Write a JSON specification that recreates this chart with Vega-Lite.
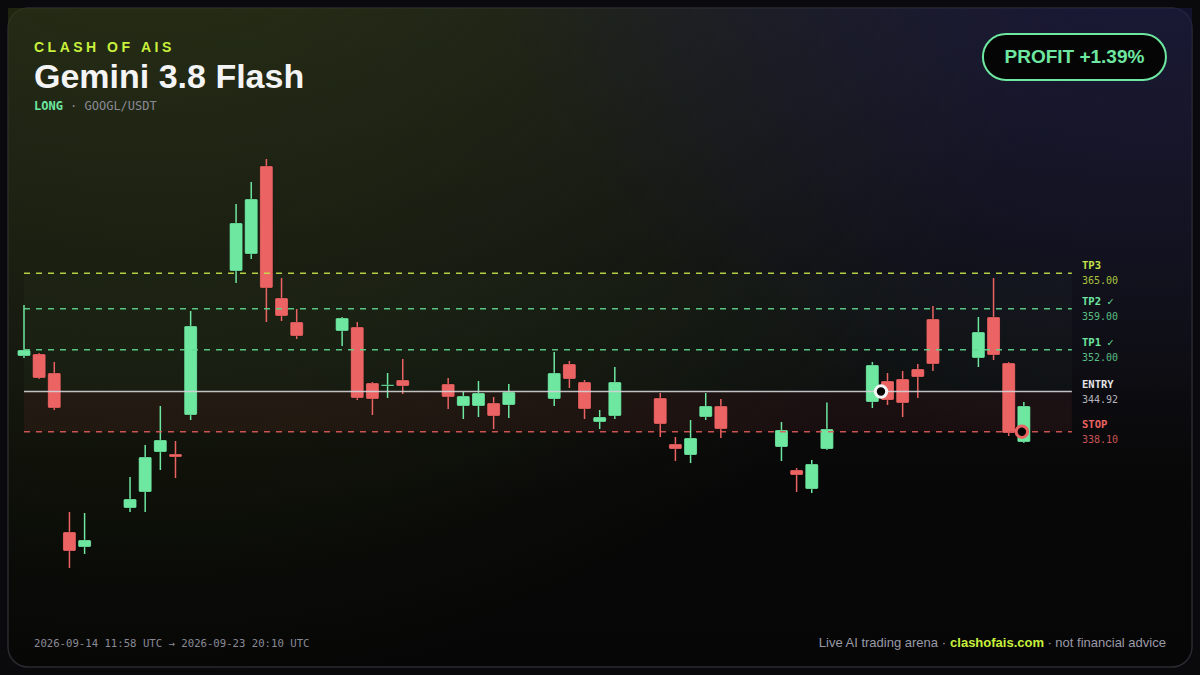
{
  "$schema": "https://vega.github.io/schema/vega-lite/v6.json",
  "width": 1184,
  "height": 659,
  "padding": 8,
  "autosize": {"type": "none"},
  "background": "#0a0a0c",
  "config": {
    "scale": {"continuousPadding": 0},
    "view": {
      "stroke": "#2a2a30",
      "strokeWidth": 1.5,
      "cornerRadius": 20,
      "fill": {"gradient": "linear", "x1": 0, "y1": 0, "x2": 0, "y2": 1, "stops": [{"offset": 0, "color": "#16171d"}, {"offset": 0.5, "color": "#0d0d0f"}, {"offset": 0.75, "color": "#070707"}, {"offset": 1, "color": "#060606"}]}
    }
  },
  "datasets": {
    "candles": [
      {"i": 0, "o": 350.96, "h": 359.62, "l": 350.62, "c": 351.98},
      {"i": 1, "o": 351.30, "h": 351.47, "l": 347.05, "c": 347.22},
      {"i": 2, "o": 348.07, "h": 349.94, "l": 341.79, "c": 342.13},
      {"i": 3, "o": 321.07, "h": 324.46, "l": 314.95, "c": 317.84},
      {"i": 4, "o": 318.52, "h": 324.29, "l": 317.33, "c": 319.71},
      {"i": 7, "o": 325.14, "h": 330.41, "l": 324.46, "c": 326.67},
      {"i": 8, "o": 327.86, "h": 335.84, "l": 324.46, "c": 333.80},
      {"i": 9, "o": 334.65, "h": 342.47, "l": 331.60, "c": 336.69},
      {"i": 10, "o": 334.31, "h": 336.52, "l": 330.24, "c": 333.80},
      {"i": 11, "o": 340.94, "h": 358.60, "l": 340.09, "c": 356.05},
      {"i": 14, "o": 365.39, "h": 376.77, "l": 363.36, "c": 373.55},
      {"i": 15, "o": 368.28, "h": 380.51, "l": 367.43, "c": 377.62},
      {"i": 16, "o": 383.23, "h": 384.42, "l": 356.73, "c": 362.51},
      {"i": 17, "o": 360.81, "h": 364.20, "l": 356.90, "c": 357.75},
      {"i": 18, "o": 356.73, "h": 358.94, "l": 353.84, "c": 354.35},
      {"i": 21, "o": 355.20, "h": 357.58, "l": 352.65, "c": 357.41},
      {"i": 22, "o": 355.88, "h": 356.73, "l": 343.48, "c": 343.82},
      {"i": 23, "o": 346.37, "h": 346.54, "l": 340.94, "c": 343.65},
      {"i": 24, "o": 345.86, "h": 348.07, "l": 343.82, "c": 346.08},
      {"i": 25, "o": 346.88, "h": 350.45, "l": 344.50, "c": 345.86},
      {"i": 28, "o": 346.20, "h": 347.22, "l": 341.96, "c": 344.00},
      {"i": 29, "o": 342.47, "h": 344.84, "l": 340.26, "c": 344.16},
      {"i": 30, "o": 342.47, "h": 346.71, "l": 340.60, "c": 344.67},
      {"i": 31, "o": 342.98, "h": 344.00, "l": 338.56, "c": 340.77},
      {"i": 32, "o": 342.64, "h": 346.20, "l": 340.43, "c": 344.84},
      {"i": 35, "o": 343.65, "h": 351.64, "l": 342.47, "c": 348.07},
      {"i": 36, "o": 349.60, "h": 350.11, "l": 345.52, "c": 347.05},
      {"i": 37, "o": 346.54, "h": 346.88, "l": 340.26, "c": 341.96},
      {"i": 38, "o": 339.75, "h": 341.79, "l": 338.56, "c": 340.60},
      {"i": 39, "o": 340.77, "h": 349.09, "l": 340.26, "c": 346.54},
      {"i": 42, "o": 343.82, "h": 344.67, "l": 337.20, "c": 339.41},
      {"i": 43, "o": 336.01, "h": 337.20, "l": 333.12, "c": 335.16},
      {"i": 44, "o": 334.14, "h": 340.09, "l": 332.78, "c": 337.03},
      {"i": 45, "o": 340.60, "h": 344.67, "l": 340.09, "c": 342.47},
      {"i": 46, "o": 342.47, "h": 343.65, "l": 337.03, "c": 338.56},
      {"i": 50, "o": 335.50, "h": 339.75, "l": 333.12, "c": 338.39},
      {"i": 51, "o": 331.60, "h": 331.93, "l": 327.86, "c": 330.75},
      {"i": 52, "o": 328.37, "h": 333.29, "l": 327.69, "c": 332.61},
      {"i": 53, "o": 335.16, "h": 343.05, "l": 334.99, "c": 338.56},
      {"i": 56, "o": 343.14, "h": 349.94, "l": 342.13, "c": 349.43},
      {"i": 57, "o": 346.71, "h": 348.07, "l": 342.64, "c": 343.48},
      {"i": 58, "o": 347.05, "h": 348.41, "l": 340.60, "c": 342.98},
      {"i": 59, "o": 348.75, "h": 349.60, "l": 343.82, "c": 347.39},
      {"i": 60, "o": 357.24, "h": 359.45, "l": 348.41, "c": 349.60},
      {"i": 63, "o": 350.62, "h": 357.58, "l": 349.09, "c": 355.03},
      {"i": 64, "o": 357.58, "h": 364.20, "l": 350.28, "c": 351.13},
      {"i": 65, "o": 349.77, "h": 349.94, "l": 337.37, "c": 337.88},
      {"i": 66, "o": 336.35, "h": 343.14, "l": 336.18, "c": 342.47}
    ],
    "levels": [
      {"name": "TP3", "price": 365, "label": "TP3", "value": "365.00"},
      {"name": "TP2", "price": 359, "label": "TP2 ✓", "value": "359.00"},
      {"name": "TP1", "price": 352, "label": "TP1 ✓", "value": "352.00"},
      {"name": "ENTRY", "price": 344.92, "label": "ENTRY", "value": "344.92"},
      {"name": "STOP", "price": 338.1, "label": "STOP", "value": "338.10"}
    ],
    "zones": [
      {"zone": "profit", "lo": 344.92, "hi": 365},
      {"zone": "loss", "lo": 338.1, "hi": 344.92}
    ],
    "events": [
      {"event": "entry", "i": 56.57, "price": 344.92},
      {"event": "exit", "i": 65.87, "price": 338.1}
    ],
    "one": [{}]
  },
  "resolve": {"scale": {"color": "independent", "strokeDash": "independent"}},
  "layer": [
    {
      "data": {"name": "one"},
      "mark": {"type": "rect", "fill": {"gradient": "radial", "x1": 0.12, "y1": 0, "r1": 0, "x2": 0.12, "y2": 0, "r2": 0.8, "stops": [{"offset": 0, "color": "rgba(44,54,16,0.9)"}, {"offset": 1, "color": "rgba(44,54,16,0)"}]}},
      "encoding": {
        "x": {"datum": -1.056, "type": "quantitative", "scale": {"domain": [-1.056, 77.1], "nice": false, "zero": false, "padding": 0}, "axis": null},
        "x2": {"datum": 77.1},
        "y": {"datum": 410.06, "type": "quantitative", "scale": {"domain": [298.14, 410.06], "nice": false, "zero": false}, "axis": null},
        "y2": {"datum": 298.14}
      }
    },
    {
      "data": {"name": "one"},
      "mark": {"type": "rect", "fill": {"gradient": "radial", "x1": 0.97, "y1": 0, "r1": 0, "x2": 0.97, "y2": 0, "r2": 0.6, "stops": [{"offset": 0, "color": "rgba(28,26,72,0.85)"}, {"offset": 1, "color": "rgba(28,26,72,0)"}]}},
      "encoding": {
        "x": {"datum": -1.056, "type": "quantitative", "scale": {"domain": [-1.056, 77.1], "nice": false, "zero": false, "padding": 0}, "axis": null},
        "x2": {"datum": 77.1},
        "y": {"datum": 410.06, "type": "quantitative", "scale": {"domain": [298.14, 410.06], "nice": false, "zero": false}, "axis": null},
        "y2": {"datum": 298.14}
      }
    },
    {
      "data": {"name": "zones"},
      "mark": {"type": "rect"},
      "encoding": {
        "x": {"datum": 0, "type": "quantitative", "scale": {"domain": [-1.056, 77.1], "nice": false, "zero": false, "padding": 0}, "axis": null},
        "x2": {"datum": 69.17},
        "y": {"field": "hi", "type": "quantitative", "scale": {"domain": [298.14, 410.06], "nice": false, "zero": false}, "axis": null},
        "y2": {"field": "lo"},
        "color": {"field": "zone", "type": "nominal", "scale": {"domain": ["profit", "loss"], "range": ["rgba(120,200,120,0.035)", "rgba(235,90,90,0.07)"]}, "legend": null}
      }
    },
    {
      "data": {"name": "candles"},
      "mark": {"type": "rule", "strokeWidth": 1.5},
      "encoding": {
        "x": {"field": "i", "type": "quantitative", "scale": {"domain": [-1.056, 77.1], "nice": false, "zero": false, "padding": 0}, "axis": null},
        "y": {"field": "l", "type": "quantitative", "scale": {"domain": [298.14, 410.06], "nice": false, "zero": false}, "axis": null},
        "y2": {"field": "h"},
        "color": {"condition": {"test": "datum.c >= datum.o", "value": "#6ee7a0"}, "value": "#ec6363"}
      }
    },
    {
      "data": {"name": "candles"},
      "mark": {"type": "bar", "size": 13, "cornerRadius": 1.5, "stroke": "#000000", "strokeOpacity": 0.25, "strokeWidth": 0.8},
      "encoding": {
        "x": {"field": "i", "type": "quantitative", "scale": {"domain": [-1.056, 77.1], "nice": false, "zero": false, "padding": 0}, "axis": null},
        "y": {"field": "o", "type": "quantitative", "scale": {"domain": [298.14, 410.06], "nice": false, "zero": false}, "axis": null},
        "y2": {"field": "c"},
        "color": {"condition": {"test": "datum.c >= datum.o", "value": "#6ee7a0"}, "value": "#ec6363"}
      }
    },
    {
      "data": {"name": "levels"},
      "transform": [{"filter": "datum.name != 'ENTRY'"}],
      "mark": {"type": "rule", "strokeWidth": 1.5, "opacity": 0.9},
      "encoding": {
        "x": {"datum": 0, "type": "quantitative", "scale": {"domain": [-1.056, 77.1], "nice": false, "zero": false, "padding": 0}, "axis": null},
        "x2": {"datum": 69.17},
        "y": {"field": "price", "type": "quantitative", "scale": {"domain": [298.14, 410.06], "nice": false, "zero": false}, "axis": null},
        "color": {"field": "name", "type": "nominal", "scale": {"domain": ["TP3", "TP2", "TP1", "STOP"], "range": ["#c5e34a", "#5fd890", "#5fd890", "#e05a5a"]}, "legend": null},
        "strokeDash": {"field": "name", "type": "nominal", "scale": {"domain": ["TP3", "TP2", "TP1", "STOP"], "range": [[6, 6], [6, 6], [6, 6], [6, 6]]}, "legend": null}
      }
    },
    {
      "data": {"name": "levels"},
      "transform": [{"filter": "datum.name == 'ENTRY'"}],
      "mark": {"type": "rule", "strokeWidth": 1.6, "color": "#d4d4d8", "opacity": 0.9},
      "encoding": {
        "x": {"datum": 0, "type": "quantitative", "scale": {"domain": [-1.056, 77.1], "nice": false, "zero": false, "padding": 0}, "axis": null},
        "x2": {"datum": 69.17},
        "y": {"field": "price", "type": "quantitative", "scale": {"domain": [298.14, 410.06], "nice": false, "zero": false}, "axis": null}
      }
    },
    {
      "data": {"name": "events"},
      "mark": {"type": "point", "shape": "circle", "size": 130, "filled": false, "fill": "#050505", "fillOpacity": 1, "strokeWidth": 3, "opacity": 1},
      "encoding": {
        "x": {"field": "i", "type": "quantitative", "scale": {"domain": [-1.056, 77.1], "nice": false, "zero": false, "padding": 0}, "axis": null},
        "y": {"field": "price", "type": "quantitative", "scale": {"domain": [298.14, 410.06], "nice": false, "zero": false}, "axis": null},
        "color": {"field": "event", "type": "nominal", "scale": {"domain": ["entry", "exit"], "range": ["#f4f4f5", "#ec6363"]}, "legend": null}
      }
    },
    {
      "data": {"name": "levels"},
      "mark": {"type": "text", "align": "left", "baseline": "middle", "dy": -7, "font": "DejaVu Sans Mono", "fontSize": 10.5, "fontWeight": "bold"},
      "encoding": {
        "x": {"datum": 69.84, "type": "quantitative", "scale": {"domain": [-1.056, 77.1], "nice": false, "zero": false, "padding": 0}, "axis": null},
        "y": {"field": "price", "type": "quantitative", "scale": {"domain": [298.14, 410.06], "nice": false, "zero": false}, "axis": null},
        "text": {"field": "label"},
        "color": {"field": "name", "type": "nominal", "scale": {"domain": ["TP3", "TP2", "TP1", "ENTRY", "STOP"], "range": ["#c5e34a", "#6ee7a0", "#6ee7a0", "#e4e4e7", "#ec6363"]}, "legend": null}
      }
    },
    {
      "data": {"name": "levels"},
      "mark": {"type": "text", "align": "left", "baseline": "middle", "dy": 8, "font": "DejaVu Sans Mono", "fontSize": 10},
      "encoding": {
        "x": {"datum": 69.84, "type": "quantitative", "scale": {"domain": [-1.056, 77.1], "nice": false, "zero": false, "padding": 0}, "axis": null},
        "y": {"field": "price", "type": "quantitative", "scale": {"domain": [298.14, 410.06], "nice": false, "zero": false}, "axis": null},
        "text": {"field": "value"},
        "color": {"field": "name", "type": "nominal", "scale": {"domain": ["TP3", "TP2", "TP1", "ENTRY", "STOP"], "range": ["#a9c23e", "#58bd84", "#58bd84", "#b4b4bc", "#c85454"]}, "legend": null}
      }
    },
    {
      "data": {"name": "one"},
      "mark": {"type": "text", "text": "C\u2005L\u2005A\u2005S\u2005H\u2005 \u2005O\u2005F\u2005 \u2005A\u2005I\u2005S", "align": "left", "baseline": "alphabetic", "font": "Liberation Sans", "fontSize": 14, "fontWeight": "bold", "color": "#c8f03c"},
      "encoding": {
        "x": {"datum": 0.66, "type": "quantitative", "scale": {"domain": [-1.056, 77.1], "nice": false, "zero": false, "padding": 0}, "axis": null},
        "y": {"datum": 402.59, "type": "quantitative", "scale": {"domain": [298.14, 410.06], "nice": false, "zero": false}, "axis": null}
      }
    },
    {
      "data": {"name": "one"},
      "mark": {"type": "text", "text": "Gemini 3.8 Flash", "align": "left", "baseline": "alphabetic", "font": "Liberation Sans", "fontSize": 34, "fontWeight": "bold", "color": "#f4f4f5"},
      "encoding": {
        "x": {"datum": 0.66, "type": "quantitative", "scale": {"domain": [-1.056, 77.1], "nice": false, "zero": false, "padding": 0}, "axis": null},
        "y": {"datum": 396.47, "type": "quantitative", "scale": {"domain": [298.14, 410.06], "nice": false, "zero": false}, "axis": null}
      }
    },
    {
      "data": {"name": "one"},
      "mark": {"type": "text", "text": "LONG", "align": "left", "baseline": "alphabetic", "font": "DejaVu Sans Mono", "fontSize": 12, "fontWeight": "bold", "color": "#6ee7a0"},
      "encoding": {
        "x": {"datum": 0.66, "type": "quantitative", "scale": {"domain": [-1.056, 77.1], "nice": false, "zero": false, "padding": 0}, "axis": null},
        "y": {"datum": 392.82, "type": "quantitative", "scale": {"domain": [298.14, 410.06], "nice": false, "zero": false}, "axis": null}
      }
    },
    {
      "data": {"name": "one"},
      "mark": {"type": "text", "text": "· GOOGL/USDT", "align": "left", "baseline": "alphabetic", "font": "DejaVu Sans Mono", "fontSize": 12, "color": "#8a8a96"},
      "encoding": {
        "x": {"datum": 3.04, "type": "quantitative", "scale": {"domain": [-1.056, 77.1], "nice": false, "zero": false, "padding": 0}, "axis": null},
        "y": {"datum": 392.82, "type": "quantitative", "scale": {"domain": [298.14, 410.06], "nice": false, "zero": false}, "axis": null}
      }
    },
    {
      "data": {"name": "one"},
      "mark": {"type": "rect", "cornerRadius": 23, "fill": "#050505", "stroke": "#6ee7a0", "strokeWidth": 2},
      "encoding": {
        "x": {"datum": 63.3, "type": "quantitative", "scale": {"domain": [-1.056, 77.1], "nice": false, "zero": false, "padding": 0}, "axis": null},
        "x2": {"datum": 75.38},
        "y": {"datum": 405.65, "type": "quantitative", "scale": {"domain": [298.14, 410.06], "nice": false, "zero": false}, "axis": null},
        "y2": {"datum": 397.83}
      }
    },
    {
      "data": {"name": "one"},
      "mark": {"type": "text", "text": "PROFIT +1.39%", "align": "center", "baseline": "middle", "font": "Liberation Sans", "fontSize": 19, "fontWeight": "bold", "color": "#6ee7a0"},
      "encoding": {
        "x": {"datum": 69.34, "type": "quantitative", "scale": {"domain": [-1.056, 77.1], "nice": false, "zero": false, "padding": 0}, "axis": null},
        "y": {"datum": 401.74, "type": "quantitative", "scale": {"domain": [298.14, 410.06], "nice": false, "zero": false}, "axis": null}
      }
    },
    {
      "data": {"name": "one"},
      "mark": {"type": "text", "text": "2026-09-14 11:58 UTC → 2026-09-23 20:10 UTC", "align": "left", "baseline": "alphabetic", "font": "DejaVu Sans Mono", "fontSize": 10.65, "color": "#8a8a96"},
      "encoding": {
        "x": {"datum": 0.66, "type": "quantitative", "scale": {"domain": [-1.056, 77.1], "nice": false, "zero": false, "padding": 0}, "axis": null},
        "y": {"datum": 301.53, "type": "quantitative", "scale": {"domain": [298.14, 410.06], "nice": false, "zero": false}, "axis": null}
      }
    },
    {
      "data": {"name": "one"},
      "mark": {"type": "text", "text": "Live AI trading arena ·", "align": "right", "baseline": "alphabetic", "font": "Liberation Sans", "fontSize": 13, "color": "#9a9aa6"},
      "encoding": {
        "x": {"datum": 60.86, "type": "quantitative", "scale": {"domain": [-1.056, 77.1], "nice": false, "zero": false, "padding": 0}, "axis": null},
        "y": {"datum": 301.53, "type": "quantitative", "scale": {"domain": [298.14, 410.06], "nice": false, "zero": false}, "axis": null}
      }
    },
    {
      "data": {"name": "one"},
      "mark": {"type": "text", "text": "clashofais.com", "align": "right", "baseline": "alphabetic", "font": "Liberation Sans", "fontSize": 13, "fontWeight": "bold", "color": "#c8f03c"},
      "encoding": {
        "x": {"datum": 67.33, "type": "quantitative", "scale": {"domain": [-1.056, 77.1], "nice": false, "zero": false, "padding": 0}, "axis": null},
        "y": {"datum": 301.53, "type": "quantitative", "scale": {"domain": [298.14, 410.06], "nice": false, "zero": false}, "axis": null}
      }
    },
    {
      "data": {"name": "one"},
      "mark": {"type": "text", "text": "· not financial advice", "align": "right", "baseline": "alphabetic", "font": "Liberation Sans", "fontSize": 13, "color": "#9a9aa6"},
      "encoding": {
        "x": {"datum": 75.38, "type": "quantitative", "scale": {"domain": [-1.056, 77.1], "nice": false, "zero": false, "padding": 0}, "axis": null},
        "y": {"datum": 301.53, "type": "quantitative", "scale": {"domain": [298.14, 410.06], "nice": false, "zero": false}, "axis": null}
      }
    }
  ]
}
